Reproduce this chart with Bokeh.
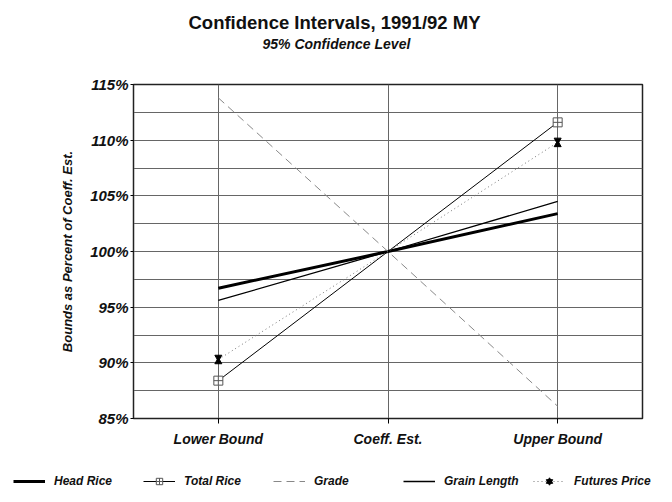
from bokeh.plotting import figure
from bokeh.layouts import column, row
from bokeh.models import (FactorRange, Range1d, SingleIntervalTicker, Title, Legend,
                          LegendItem, CustomJSTickFormatter)
from bokeh.embed import file_html
from bokeh.resources import INLINE

categories = ["Lower Bound", "Coeff. Est.", "Upper Bound"]
head_rice = [96.7, 100.0, 103.4]
total_rice = [88.4, 100.0, 111.6]
grade = [113.8, 100.0, 86.1]
grain_length = [95.6, 100.0, 104.5]
futures_price = [90.3, 100.0, 109.8]
series_names = ["Head Rice", "Total Rice", "Grade", "Grain Length", "Futures Price"]

FONT = "Liberation Sans"
INK = "#111111"


def draw_series(fig):
    r_head = fig.line(categories, head_rice, line_color="black", line_width=3)
    r_total = fig.line(categories, total_rice, line_color="black", line_width=1)
    r_total_m = fig.scatter(categories[::2], total_rice[::2], marker="square_cross", size=9,
                            fill_color="white", line_color="#555555")
    r_grade = fig.line(categories, grade, line_color="#888888", line_width=1, line_dash="8 5")
    r_grain = fig.line(categories, grain_length, line_color="black", line_width=1.3)
    r_fut = fig.line(categories, futures_price, line_color="#777777", line_width=1,
                     line_dash="1 3")
    r_fut_top = fig.scatter(categories[::2], [v + 0.2 for v in futures_price[::2]],
                            marker="inverted_triangle", size=7, fill_color="black",
                            line_color="black")
    r_fut_bot = fig.scatter(categories[::2], [v - 0.2 for v in futures_price[::2]],
                            marker="triangle", size=7, fill_color="black", line_color="black")
    return [[r_head], [r_total, r_total_m], [r_grade], [r_grain],
            [r_fut, r_fut_top, r_fut_bot]]


p = figure(width=656, height=460, output_backend="svg", toolbar_location=None,
           x_range=FactorRange(factors=categories), y_range=Range1d(85, 115),
           title=None, min_border_left=133, min_border_right=14,
           min_border_top=84, min_border_bottom=42)

sub = Title(text="95% Confidence Level", align="left", text_font=FONT,
            text_font_style="bold italic", text_font_size="14px", standoff=66, offset=129,
            text_color=INK)
main = Title(text="Confidence Intervals, 1991/92 MY", align="left", text_font=FONT,
             text_font_style="bold", text_font_size="18.5px", standoff=-64, offset=55,
             text_color=INK)
p.add_layout(sub, "above")
p.add_layout(main, "above")

p.outline_line_color = "#222222"
p.outline_line_width = 1.5

p.yaxis.ticker = SingleIntervalTicker(interval=5, num_minor_ticks=2)
p.yaxis.formatter = CustomJSTickFormatter(code="return tick.toFixed(0) + '%';")
p.yaxis.axis_label = "Bounds as Percent of Coeff. Est."
p.yaxis.axis_label_text_font = FONT
p.yaxis.axis_label_text_font_style = "bold italic"
p.yaxis.axis_label_text_font_size = "13px"
p.yaxis.axis_label_text_color = INK
p.yaxis.axis_label_standoff = 12
p.yaxis.major_label_text_font = FONT
p.yaxis.major_label_text_font_style = "bold italic"
p.yaxis.major_label_text_font_size = "15px"
p.yaxis.major_label_text_color = INK
p.yaxis.major_label_standoff = 2
p.yaxis.major_tick_in = 0
p.yaxis.major_tick_out = 3
p.yaxis.minor_tick_in = 0
p.yaxis.minor_tick_out = 0
p.yaxis.axis_line_color = "#222222"

p.xaxis.major_label_text_font = FONT
p.xaxis.major_label_text_font_style = "bold italic"
p.xaxis.major_label_text_font_size = "14px"
p.xaxis.major_label_text_color = INK
p.xaxis.major_label_standoff = 7
p.xaxis.major_tick_in = 0
p.xaxis.major_tick_out = 5
p.xaxis.axis_line_color = "#222222"

p.ygrid.grid_line_color = "#666666"
p.ygrid.minor_grid_line_color = "#666666"
p.ygrid.grid_line_width = 1
p.xgrid.grid_line_color = "#666666"

draw_series(p)

# legend strip: same series drawn outside its visible range, only the legend shows
lg = figure(width=656, height=34, output_backend="svg", toolbar_location=None,
            x_range=FactorRange(factors=categories), y_range=Range1d(0, 1),
            x_axis_type=None, y_axis_type=None, title=None,
            min_border_left=0, min_border_right=0, min_border_top=0, min_border_bottom=0)
lg.outline_line_color = None
lg.grid.visible = False
groups = draw_series(lg)

legend = Legend(items=[LegendItem(label=n, renderers=g) for n, g in zip(series_names, groups)],
                orientation="horizontal", location=(13, 5))
legend.label_text_font = FONT
legend.label_text_font_style = "bold italic"
legend.label_text_font_size = "12px"
legend.label_text_color = INK
legend.glyph_width = 32
legend.glyph_height = 16
legend.label_height = 16
legend.label_standoff = 9
legend.label_width = 79
legend.spacing = 10
legend.border_line_color = None
legend.background_fill_alpha = 0
legend.margin = 0
legend.padding = 4
lg.add_layout(legend, "center")

layout = column(p, row(lg), spacing=0)
open("out.html", "w").write(file_html(layout, INLINE))
